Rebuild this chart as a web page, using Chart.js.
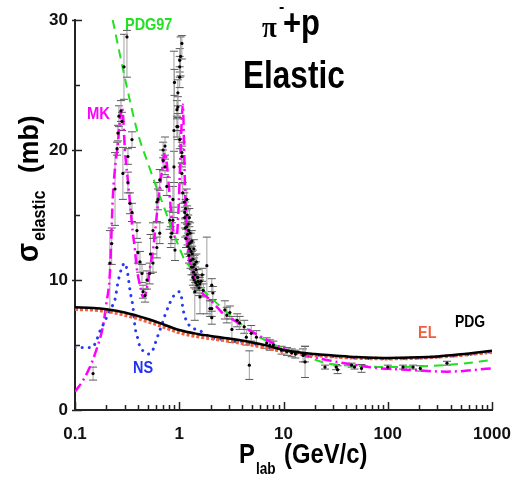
<!DOCTYPE html>
<html>
<head>
<meta charset="utf-8">
<script src="https://cdn.jsdelivr.net/npm/chart.js@4/dist/chart.umd.min.js"></script>
<style>
  html, body { margin: 0; padding: 0; background: #fff; }
  #wrap { width: 512px; height: 482px; }
</style>
</head>
<body>
<div id="wrap"><canvas id="sigmaChart" width="512" height="482"></canvas></div>
<script>
const FONT = '"Liberation Sans", Arial, sans-serif';

/* tick labels */
const xTickVals = [0.1, 1, 10, 100, 1000];
const yTickVals = [0, 10, 20, 30];
const yMinorVals = [5, 15, 25];

/* measured data (P_lab, sigma, error down, error up) */
const dataX = [0.149,0.216,0.225,0.242,0.253,0.258,0.264,0.276,0.282,0.288,
  0.295,0.315,0.322,0.322,0.337,0.352,0.352,0.393,0.401,0.42,
  0.439,0.449,0.47,0.49,0.52,0.53,0.56,0.56,0.61,0.61,
  0.625,0.65,0.65,0.70,0.70,0.73,0.73,0.76,0.81,0.83,
  0.85,0.87,0.87,0.89,0.89,0.90,0.91,0.95,0.95,0.97,
  0.97,0.97,1.01,1.01,1.01,1.01,1.03,1.06,1.06,1.06,
  1.06,1.08,1.13,1.13,1.15,1.18,1.18,1.2,1.22,1.25,
  1.25,1.27,1.3,1.32,1.35,1.35,1.38,1.4,1.41,1.45,
  1.48,1.5,1.55,1.58,1.62,1.66,1.7,1.84,1.97,2.05,
  2.05,2.05,2.1,2.74,2.86,3.06,3.2,3.6,3.8,4.2,
  4.4,4.7,4.9,5.5,6.9,7.4,8,9.6,10.8,12,
  13,15.4,16.1,16.1,25,32,33,45,48,56,
  100,140,175,205,370,
  1.12,1.14,1.16,1.19,1.21,1.23,1.24,1.26,1.28,1.29,
  1.31,1.33,1.36,1.37,1.39,1.42,1.44,1.46,1.52,1.57];
const dataY = [2.8,11.3,12.8,17.0,20.1,21.3,22.6,23.0,22.2,18.2,
  26.4,28.7,19.5,17.5,15.9,20.8,15.2,13.8,12.1,11.4,
  10.5,9.1,8.8,10.0,10.5,12.0,11.3,13.8,12.5,16.0,
  16.2,13.6,17.7,19.2,20.0,20.3,18.7,17.2,14.6,13.3,
  13.6,14.6,16.2,18.7,21.5,25.2,12.3,21.8,23.1,23.3,
  24.4,21.8,26.9,26.4,25.6,20.8,27.2,28.2,19.5,18.2,
  19.8,16.7,15.2,14.8,15.5,16.2,14.1,13.5,14.3,12.8,
  14.8,13.6,12.2,13.0,11.6,10.2,12.4,11.2,9.1,10.8,
  9.6,10.2,9.4,8.7,9.9,10.4,9.2,11.1,7.8,9.6,
  7.8,7.1,9.0,7.7,7.3,7.5,6.2,6.9,6.7,6.4,
  5.6,3.45,5.9,5.6,5.15,5.0,5.0,4.6,4.5,4.4,
  4.3,4.2,3.7,4.3,3.3,3.3,3.1,3.45,3.3,3.2,
  3.3,3.3,3.3,3.2,3.6,
  16.0,14.0,13.2,15.0,12.6,13.8,11.9,12.4,11.5,12.9,
  11.0,12.0,11.0,10.6,10.0,10.4,9.8,11.4,9.9,9.7];
const errDn = [0.5,3.6,1.6,2.8,0.5,0.6,0.8,0.8,0.7,2.0,
  2.5,3.1,0.6,0.8,0.8,0.6,0.7,0.6,0.8,0.8,
  0.7,0.5,0.5,0.7,0.8,1.5,0.7,0.6,0.8,1.5,
  0.8,0.8,0.8,0.8,0.6,0.7,0.6,0.7,0.7,0.8,
  0.8,1.0,1.0,1.2,6.7,1.0,0.8,0.8,0.7,0.8,
  1.0,1.0,0.9,0.8,0.8,0.7,1.5,1.2,0.8,0.8,
  0.8,0.8,0.8,0.8,0.7,0.8,0.7,0.8,0.7,0.8,
  0.7,0.8,0.7,0.8,0.7,0.6,0.7,0.7,2.2,0.6,
  0.6,0.6,0.6,1.3,0.5,0.5,0.5,3.7,0.6,0.5,
  0.6,0.5,0.5,0.7,0.6,0.5,1.0,0.5,0.5,0.5,
  0.6,1.1,0.6,0.5,0.4,0.4,0.3,0.3,0.3,0.3,
  0.3,0.5,1.2,0.6,0.15,0.2,0.3,0.15,0.15,0.3,
  0.15,0.15,0.15,0.2,0.15,
  0.7,0.7,0.7,0.7,0.6,0.7,0.6,0.6,0.6,0.7,
  0.6,0.6,0.6,0.6,0.6,0.6,0.5,0.6,0.5,0.5];
const errUp = [0.5,2.5,1.2,2.8,0.5,0.6,0.8,0.8,0.7,2.0,
  2.5,0.5,0.6,0.8,0.8,0.6,0.7,0.6,0.8,0.8,
  0.7,0.5,0.5,0.7,0.8,1.5,0.7,0.6,0.8,1.5,
  0.8,0.8,0.8,0.8,0.6,0.7,0.6,0.7,0.7,0.8,
  0.8,1.0,1.0,1.2,6.1,1.0,0.8,0.8,0.7,0.8,
  1.0,1.0,0.9,0.8,0.8,0.7,1.5,0.6,0.8,0.8,
  0.8,0.8,0.8,0.8,0.7,0.8,0.7,0.8,0.7,0.8,
  0.7,0.8,0.7,0.8,0.7,0.6,0.7,0.7,2.2,0.6,
  0.6,0.6,0.6,1.3,0.5,0.5,0.5,2.2,0.6,0.5,
  0.6,0.5,0.5,0.7,0.6,0.5,1.0,0.5,0.5,0.5,
  0.6,1.1,0.6,0.5,0.4,0.4,0.3,0.3,0.3,0.3,
  0.3,0.5,1.2,0.6,0.15,0.2,0.3,0.15,0.15,0.3,
  0.15,0.15,0.15,0.2,0.15,
  0.7,0.7,0.7,0.7,0.6,0.7,0.6,0.6,0.6,0.7,
  0.6,0.6,0.6,0.6,0.6,0.6,0.5,0.6,0.5,0.5];

/* model curves */
const pdgX = [0.1,0.15,0.2,0.3,0.5,0.7,1,1.5,2,3,5,7,10,20,30,50,100,200,300,500,1000];
const pdgY = [7.9,7.85,7.75,7.5,7.0,6.6,6.15,5.85,5.7,5.5,5.2,4.95,4.62,4.3,4.2,4.08,4.0,4.05,4.12,4.28,4.55];

const elX = [0.1,0.15,0.2,0.3,0.5,0.7,1,1.5,2,3,5,7,10,20,30,50,100,200,300,500,1000];
const elY = [7.75,7.7,7.6,7.3,6.8,6.4,5.95,5.65,5.5,5.3,5.0,4.75,4.5,4.2,4.1,4.0,3.95,4.0,4.08,4.22,4.45];

const nsX = [0.1,0.12,0.145,0.16,0.174,0.19,0.203,0.22,0.242,0.258,0.28,0.30,0.32,0.337,0.36,0.376,0.4,0.42,0.46,0.5,
  0.55,0.61,0.67,0.73,0.8,0.87,0.95,1.0,1.05,1.08,1.13,1.25,1.58,2,3,5,10,20,50,100,200,500,1000];
const nsY = [4.8,4.8,4.8,5.3,6.1,6.7,7.2,7.8,8.5,9.8,10.9,11.3,10.5,9.2,7.9,6.4,5.5,4.85,4.5,4.3,
  4.5,5.5,6.4,7.3,8.1,8.7,9.0,9.1,8.7,7.9,7.2,6.5,6.1,5.6,5.4,5.1,4.6,4.25,4.0,3.95,4.0,4.2,4.5];

const mkX = [0.1,0.12,0.139,0.16,0.185,0.2,0.216,0.231,0.245,0.258,0.27,0.282,0.29,0.30,0.32,0.337,0.357,0.376,0.39,0.42,
  0.45,0.47,0.5,0.52,0.56,0.6,0.625,0.68,0.73,0.77,0.81,0.86,0.91,0.95,0.99,1.03,1.06,1.08,1.1,1.13,
  1.17,1.21,1.27,1.37,1.48,1.65,1.84,2.2,2.57,3.2,3.83,5.3,7.9,10.8,14.4,26,50,84,150,370,1000];
const mkY = [1.4,2.3,3.3,4.6,6.4,8.2,10.5,16.5,19.0,20.5,22.3,23.3,22.5,20.2,17.8,15.9,13.8,12.3,11.0,9.6,
  8.7,8.8,9.8,10.8,12.3,14.5,15.9,18.3,19.8,18.5,16.4,14.3,13.3,13.5,16.0,20.0,22.5,23.5,22.0,17.7,
  14.5,12.5,11.3,10.3,9.6,9.0,8.7,8.1,7.5,7.0,6.6,5.9,5.15,4.6,4.3,3.85,3.45,3.2,3.1,2.95,3.2];

const pdg97X = [0.23,0.3,0.4,0.5,0.6,0.7,0.8,1.0,1.13,1.27,1.5,2.3,3.55,5.1,9.2,16.7,26,50,100,200,500,1000];
const pdg97Y = [30,25.6,21.3,19.0,17.2,15.8,14.5,12.5,11.5,11.0,9.8,8.2,6.9,5.9,4.85,4.1,3.6,3.4,3.3,3.35,3.55,3.85];

const pts = (xs, ys) => xs.map((v, i) => ({ x: v, y: ys[i] }));

function curve(label, xs, ys, color, width, dash, cap) {
  return {
    label: label,
    data: pts(xs, ys),
    showLine: true,
    borderColor: color,
    borderWidth: width,
    borderDash: dash,
    borderCapStyle: cap || 'butt',
    pointRadius: 0,
    cubicInterpolationMode: 'monotone',
    fill: false
  };
}

/* error bars drawn under the points */
const errorBars = {
  id: 'errorBars',
  beforeDatasetsDraw(chart) {
    const { ctx, chartArea: a } = chart;
    const xs = chart.scales.x, ys = chart.scales.y;
    ctx.save();
    ctx.beginPath();
    ctx.rect(a.left, a.top, a.right - a.left, a.bottom - a.top);
    ctx.clip();
    ctx.lineWidth = 1;
    dataX.forEach((v, i) => {
      const px = xs.getPixelForValue(v);
      const top = ys.getPixelForValue(dataY[i] + errUp[i]);
      const bot = ys.getPixelForValue(dataY[i] - errDn[i]);
      ctx.strokeStyle = '#a0a0a0';
      ctx.beginPath();
      ctx.moveTo(px, top); ctx.lineTo(px, bot);
      ctx.stroke();
      ctx.strokeStyle = '#5a5a5a';
      ctx.beginPath();
      ctx.moveTo(px - 4, top); ctx.lineTo(px + 4, top);
      ctx.moveTo(px - 4, bot); ctx.lineTo(px + 4, bot);
      ctx.stroke();
    });
    ctx.restore();
  }
};

/* inward major / minor tick marks */
const tickMarks = {
  id: 'tickMarks',
  afterDraw(chart) {
    const { ctx, chartArea: a } = chart;
    const xs = chart.scales.x, ys = chart.scales.y;
    ctx.save();
    ctx.strokeStyle = '#222';
    ctx.lineWidth = 1.5;
    ctx.beginPath();
    for (let e = -1; e <= 3; e++) {
      for (let k = 1; k <= 9; k++) {
        const v = k * Math.pow(10, e);
        if (v > 1000.0001) break;
        const px = Math.round(xs.getPixelForValue(v)) + 0.5;
        const len = k === 1 ? 8 : 5;
        ctx.moveTo(px, a.bottom); ctx.lineTo(px, a.bottom - len);
      }
    }
    yTickVals.forEach(v => {
      const py = Math.round(ys.getPixelForValue(v)) + 0.5;
      ctx.moveTo(a.left - 3, py); ctx.lineTo(a.left + 7, py);
    });
    yMinorVals.forEach(v => {
      const py = Math.round(ys.getPixelForValue(v)) + 0.5;
      ctx.moveTo(a.left, py); ctx.lineTo(a.left + 5, py);
    });
    ctx.stroke();
    ctx.restore();
  }
};

function txt(ctx, s, x, y, size, color, sx, family) {
  ctx.save();
  ctx.translate(x, y);
  ctx.scale(sx, 1);
  ctx.font = 'bold ' + size + 'px ' + (family || FONT);
  ctx.fillStyle = color;
  ctx.textBaseline = 'alphabetic';
  ctx.fillText(s, 0, 0);
  ctx.restore();
}

/* titles, axis titles and curve labels */
const annotations = {
  id: 'annotations',
  afterDraw(chart) {
    const ctx = chart.ctx;
    // reaction title
    txt(ctx, 'π', 262, 37, 30, '#000', 0.9, '"Liberation Serif", serif');
    txt(ctx, '-', 279, 12, 16, '#000', 1);
    txt(ctx, '+p', 283, 35, 36, '#000', 0.86);
    txt(ctx, 'Elastic', 243, 88, 38, '#000', 0.83);
    // curve labels
    txt(ctx, 'PDG97', 125, 30, 17, '#22e022', 0.85);
    txt(ctx, 'MK', 87, 119, 17, '#ff00ff', 0.87);
    txt(ctx, 'NS', 133, 373, 17, '#2233ee', 0.85);
    txt(ctx, 'EL', 418, 338, 17, '#ee6040', 0.85);
    txt(ctx, 'PDG', 455, 327, 17, '#000', 0.82);
    // x axis title
    txt(ctx, 'P', 239, 463, 28, '#000', 0.85);
    txt(ctx, 'lab', 256, 474, 16, '#000', 0.85);
    txt(ctx, '(GeV/c)', 284, 463, 28, '#000', 0.85);
    // y axis title, rotated
    ctx.save();
    ctx.translate(38, 262);
    ctx.rotate(-Math.PI / 2);
    txt(ctx, 'σ', 0, 0, 31, '#000', 0.9);
    txt(ctx, 'elastic', 21, 7, 18, '#000', 0.9);
    txt(ctx, '(mb)', 89, 0, 28, '#000', 0.95);
    ctx.restore();
  }
};

const tickFont = { family: FONT, size: 17, weight: 'bold' };

new Chart(document.getElementById('sigmaChart'), {
  type: 'scatter',
  data: {
    datasets: [
      {
        label: 'data',
        data: pts(dataX, dataY),
        pointRadius: 1.6,
        pointBackgroundColor: '#000',
        pointBorderWidth: 0,
        showLine: false
      },
      curve('PDG', pdgX, pdgY, '#000', 2.5, []),
      curve('EL', elX, elY, '#ee6040', 3.5, [3, 2]),
      curve('NS', nsX, nsY, '#2a3af0', 3, [0.1, 7], 'round'),
      curve('MK', mkX, mkY, '#ff00ff', 2.5, [10, 4, 2, 4]),
      curve('PDG97', pdg97X, pdg97Y, '#22e022', 2, [9, 6])
    ]
  },
  options: {
    responsive: false,
    animation: false,
    layout: { padding: { top: 20, right: 20, left: 0, bottom: 0 } },
    plugins: { legend: { display: false }, tooltip: { enabled: false } },
    scales: {
      x: {
        type: 'logarithmic',
        min: 0.1,
        max: 1000,
        afterBuildTicks: s => { s.ticks = xTickVals.map(v => ({ value: v })); },
        afterFit: s => { s.height = 72; s.paddingLeft = 0; s.paddingRight = 0; },
        grid: { display: false, drawTicks: false },
        border: { display: true, color: '#222', width: 2 },
        ticks: {
          font: tickFont,
          color: '#111',
          padding: 14,
          maxRotation: 0,
          autoSkip: false,
          callback: v => String(v)
        }
      },
      y: {
        min: 0,
        max: 30,
        afterBuildTicks: s => { s.ticks = yTickVals.map(v => ({ value: v })); },
        afterFit: s => { s.width = 75; s.paddingTop = 0; s.paddingBottom = 0; },
        grid: { display: false, drawTicks: false },
        border: { display: true, color: '#222', width: 2 },
        ticks: {
          font: tickFont,
          color: '#111',
          padding: 7,
          callback: v => String(v)
        }
      }
    }
  },
  plugins: [errorBars, tickMarks, annotations]
});
</script>
</body>
</html>
